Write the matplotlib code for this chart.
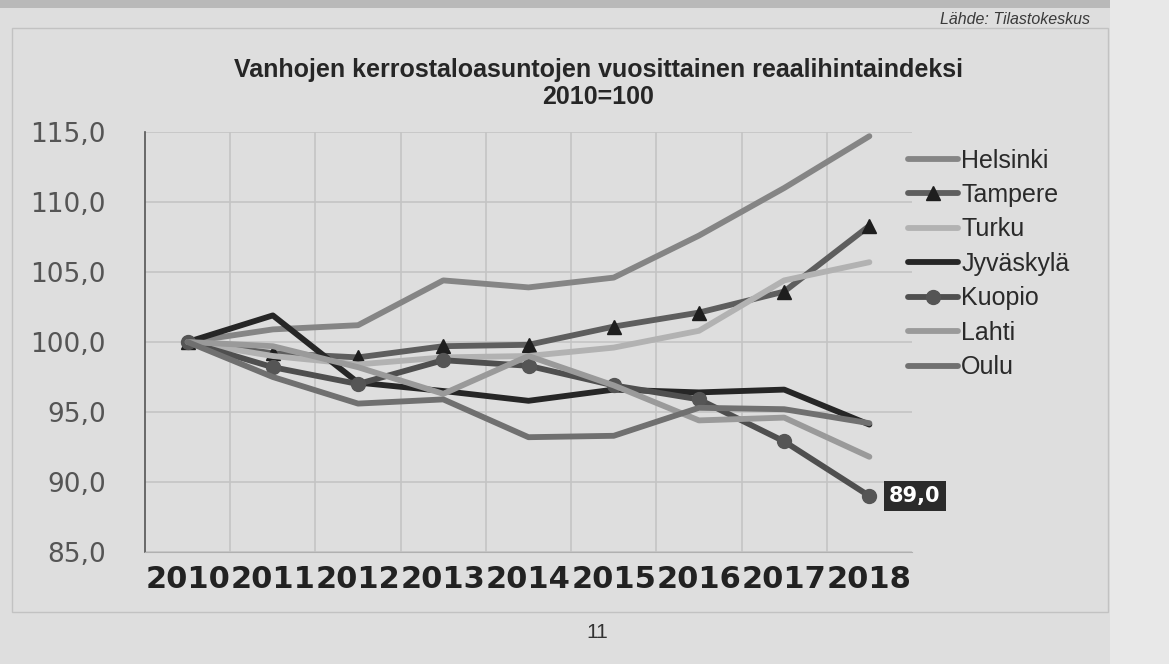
import matplotlib
matplotlib.use("Agg")
import matplotlib.pyplot as plt
from matplotlib.patches import Rectangle

# data (2010=100)
years = ["2010", "2011", "2012", "2013", "2014", "2015", "2016", "2017", "2018"]
helsinki  = [100.0, 100.9, 101.2, 104.4, 103.9, 104.6, 107.6, 111.0, 114.7]
tampere   = [100.0,  99.2,  98.9,  99.7,  99.8, 101.1, 102.1, 103.6, 108.3]
turku     = [100.0,  99.0,  98.4,  98.9,  99.0,  99.6, 100.8, 104.4, 105.7]
jyvaskyla = [100.0, 101.9,  97.1,  96.5,  95.8,  96.6,  96.4,  96.6,  94.1]
kuopio    = [100.0,  98.2,  97.0,  98.7,  98.3,  96.9,  95.9,  92.9,  89.0]
lahti     = [100.0,  99.7,  98.2,  96.3,  99.0,  96.9,  94.4,  94.6,  91.8]
oulu      = [100.0,  97.5,  95.6,  95.9,  93.2,  93.3,  95.3,  95.2,  94.2]
y_ticks = [85, 90, 95, 100, 105, 110, 115]

paper = '#dedede'
fig = plt.figure(figsize=(11.69, 6.64), dpi=100, facecolor=paper)
W, H = 1169, 664

# chart frame on the printed page + the next sheet at the right edge
fig.patches.append(Rectangle((12 / W, 1 - 612 / H), (1108 - 12) / W, (612 - 28) / H,
                             transform=fig.transFigure, fill=False,
                             edgecolor='#c2c2c2', lw=1.0))
fig.patches.append(Rectangle((1110 / W, 0), 59 / W, 1, transform=fig.transFigure,
                             facecolor='#e8e8e8', edgecolor='none', zorder=0))
fig.patches.append(Rectangle((0, 1 - 8 / H), 1110 / W, 8 / H, transform=fig.transFigure,
                             facecolor='#b9b9b9', edgecolor='none', zorder=0))

ax = fig.add_axes([145 / W, 1 - 552 / H, (912 - 145) / W, (552 - 132) / H])
ax.set_facecolor(paper)

x = list(range(len(years)))
lw = 4.2
ax.plot(x, helsinki, color='#858585', lw=lw, solid_capstyle='round', label='Helsinki')
ax.plot(x, tampere, color='#5e5e5e', lw=lw, solid_capstyle='round', marker='^',
        ms=10, mfc='#1e1e1e', mec='#1e1e1e', label='Tampere')
ax.plot(x, turku, color='#b2b2b2', lw=lw, solid_capstyle='round', label='Turku')
ax.plot(x, jyvaskyla, color='#262626', lw=lw, solid_capstyle='round', label='Jyväskylä')
ax.plot(x, kuopio, color='#4f4f4f', lw=lw, solid_capstyle='round', marker='o',
        ms=10, mfc='#555555', mec='#555555', label='Kuopio')
ax.plot(x, lahti, color='#9a9a9a', lw=lw, solid_capstyle='round', label='Lahti')
ax.plot(x, oulu, color='#707070', lw=lw, solid_capstyle='round', label='Oulu')

ax.annotate('89,0', xy=(x[-1], kuopio[-1]), xytext=(14, 0), textcoords='offset points',
            ha='left', va='center', color='white', fontsize=15, fontweight='bold',
            family='DejaVu Sans',
            bbox=dict(boxstyle='square,pad=0.25', fc='#2b2b2b', ec='none'))

ax.set_xlim(-0.5, len(years) - 0.5)
ax.set_ylim(85, 115)
ax.set_yticks(y_ticks)
ax.set_yticklabels([f'{v:.1f}'.replace('.', ',') for v in y_ticks],
                   fontsize=19, color='#555555', family='DejaVu Sans')
ax.set_xticks(x)
ax.set_xticklabels(years, fontsize=22, fontweight='bold', color='#222222',
                   family='DejaVu Sans')
ax.set_xticks([i + 0.5 for i in x[:-1]], minor=True)
ax.tick_params(axis='y', length=0, pad=28)
ax.tick_params(axis='x', which='both', length=0, pad=9)
ax.grid(axis='y', color='#c4c4c4', lw=1.2)
ax.grid(axis='x', which='minor', color='#c4c4c4', lw=1.2)
ax.set_axisbelow(True)
for s in ['top', 'right']:
    ax.spines[s].set_visible(False)
ax.spines['left'].set_color('#555555')
ax.spines['left'].set_linewidth(1.2)
ax.spines['bottom'].set_color('#b0b0b0')

handles, labels = ax.get_legend_handles_labels()
fig.legend(handles, labels, loc='upper left', bbox_to_anchor=(895 / W, 1 - 136 / H),
           frameon=False, prop={'family': 'Liberation Sans', 'size': 18},
           handlelength=2.0, handletextpad=0.15, labelspacing=0.42, borderpad=0,
           labelcolor='#2a2a2a')

fig.text(598 / W, 1 - 70 / H, 'Vanhojen kerrostaloasuntojen vuosittainen reaalihintaindeksi',
         ha='center', va='center', fontsize=18, fontweight='bold',
         family='Liberation Sans', color='#262626')
fig.text(598 / W, 1 - 97 / H, '2010=100', ha='center', va='center', fontsize=18,
         fontweight='bold', family='Liberation Sans', color='#262626')
fig.text(1090 / W, 1 - 20 / H, 'Lähde: Tilastokeskus', ha='right', va='center',
         fontsize=11.5, style='italic', family='Liberation Sans', color='#3a3a3a')
fig.text(597 / W, 1 - 632 / H, '11', ha='center', va='center', fontsize=15,
         family='Liberation Sans', color='#333333')

fig.savefig('out.png', dpi=100, facecolor=fig.get_facecolor())
